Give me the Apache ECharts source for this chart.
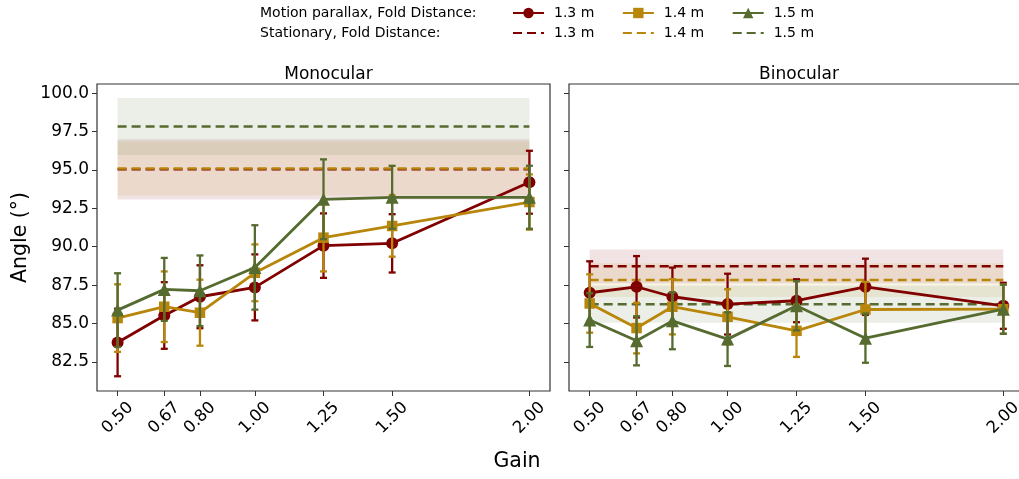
<!DOCTYPE html>
<html>
<head>
<meta charset="utf-8">
<script src="https://cdn.jsdelivr.net/npm/echarts@6/dist/echarts.min.js"></script>
<style>
html,body{margin:0;padding:0;background:#fff;}
#chart{width:1019px;height:479px;}
</style>
</head>
<body>
<div id="chart"></div>
<script>
// ---------------- data ----------------
const gains = [0.5, 0.67, 0.8, 1.0, 1.25, 1.5, 2.0];
const gainTickLabels = ['0.50', '0.67', '0.80', '1.00', '1.25', '1.50', '2.00'];
const angleTicks = [82.5, 85.0, 87.5, 90.0, 92.5, 95.0, 97.5, 100.0];
const distances = ['1.3 m', '1.4 m', '1.5 m'];
const panelTitles = ['Monocular', 'Binocular'];

// Monocular, motion parallax (mean, error)
const monoMean13 = [83.76, 85.52, 86.74, 87.35, 90.07, 90.22, 94.20];
const monoErr13  = [2.20, 2.17, 2.05, 2.15, 2.10, 1.90, 2.05];
const monoMean14 = [85.35, 86.09, 85.70, 88.30, 90.59, 91.35, 92.91];
const monoErr14  = [2.20, 2.30, 2.15, 1.85, 2.20, 2.00, 1.80];
const monoMean15 = [85.87, 87.22, 87.13, 88.65, 93.09, 93.22, 93.22];
const monoErr15  = [2.40, 2.05, 2.30, 2.75, 2.60, 2.05, 2.05];

// Binocular, motion parallax (mean, error)
const binoMean13 = [87.00, 87.39, 86.74, 86.26, 86.48, 87.39, 86.15];
const binoErr13  = [2.05, 2.00, 1.90, 1.98, 1.40, 1.83, 1.50];
const binoMean14 = [86.30, 84.70, 86.09, 85.43, 84.52, 85.91, 85.93];
const binoErr14  = [1.90, 1.65, 1.80, 1.80, 1.70, 1.80, 1.60];
const binoMean15 = [85.22, 83.87, 85.17, 83.98, 86.15, 84.04, 85.93];
const binoErr15  = [1.75, 1.60, 1.85, 1.75, 1.60, 1.60, 1.60];

// Stationary (mean, sd) for 1.3, 1.4, 1.5 m
const monoStatMean = [95.04, 95.10, 97.83];
const monoStatSd   = [1.96, 1.76, 1.85];
const binoStatMean = [88.72, 87.83, 86.25];
const binoStatSd   = [1.10, 1.10, 1.20];

// ---------------- styling ----------------
const colors = ['#800000', '#b8860b', '#556b2f'];
const bandColors = ['rgba(128,0,0,0.11)', 'rgba(184,134,11,0.10)', 'rgba(85,107,47,0.11)'];
const symbols = ['circle', 'rect', 'triangle'];
const symbolSizes = [12, 10.5, 13];
const FONT = 'DejaVu Sans';

const panels = [
  {means: [monoMean13, monoMean14, monoMean15], errs: [monoErr13, monoErr14, monoErr15], statM: monoStatMean, statS: monoStatSd},
  {means: [binoMean13, binoMean14, binoMean15], errs: [binoErr13, binoErr14, binoErr15], statM: binoStatMean, statS: binoStatSd}
];

function errRender(params, api) {
  const x = api.value(0), lo = api.value(1), hi = api.value(2);
  const p1 = api.coord([x, lo]), p2 = api.coord([x, hi]);
  const cap = 3.5;
  const style = {stroke: api.visual('color'), lineWidth: 2.3};
  return {type: 'group', children: [
    {type: 'line', shape: {x1: p1[0], y1: p1[1], x2: p2[0], y2: p2[1]}, style: style},
    {type: 'line', shape: {x1: p1[0] - cap, y1: p1[1], x2: p1[0] + cap, y2: p1[1]}, style: style},
    {type: 'line', shape: {x1: p2[0] - cap, y1: p2[1], x2: p2[0] + cap, y2: p2[1]}, style: style}
  ]};
}
function bandRender(params, api) {
  const a = api.coord([api.value(0), api.value(3)]);
  const b = api.coord([api.value(1), api.value(2)]);
  return {type: 'rect', shape: {x: a[0], y: a[1], width: b[0] - a[0], height: b[1] - a[1]},
          style: {fill: api.visual('color')}};
}

const grids = [
  {left: 97, top: 84, width: 453, height: 307, show: true, borderColor: '#333', borderWidth: 1.2,
   backgroundColor: 'transparent', outerBoundsMode: 'none', containLabel: false},
  {left: 569, top: 84, width: 455, height: 307, show: true, borderColor: '#333', borderWidth: 1.2,
   backgroundColor: 'transparent', outerBoundsMode: 'none', containLabel: false}
];

const xAxes = [0, 1].map(i => ({
  type: 'value', gridIndex: i, min: 0.425, max: 2.075,
  splitLine: {show: false}, axisLine: {show: false},
  axisTick: {show: true, length: 5, lineStyle: {color: '#333', width: 1}, customValues: gains},
  axisLabel: {customValues: gains, rotate: 45, align: 'center', verticalAlign: 'middle', margin: 27,
    fontFamily: FONT, fontSize: 16.5, color: '#000', hideOverlap: false,
    formatter: v => gainTickLabels[gains.findIndex(g => Math.abs(g - v) < 1e-6)] || ''}
}));

const yAxes = [0, 1].map(i => ({
  type: 'value', gridIndex: i, min: 80.6, max: 100.6,
  splitLine: {show: false}, axisLine: {show: false},
  axisTick: {show: true, length: 5, lineStyle: {color: '#333', width: 1}, customValues: angleTicks},
  axisLabel: {show: i === 0, customValues: angleTicks, fontFamily: FONT, fontSize: 17, color: '#000', margin: 8,
    formatter: v => v.toFixed(1)},
  name: i === 0 ? 'Angle (°)' : '', nameLocation: 'middle', nameGap: 66,
  nameTextStyle: {fontFamily: FONT, fontSize: 20.5, color: '#000'}
}));

const series = [];
panels.forEach((p, pi) => {
  for (let d = 0; d < 3; d++) {
    series.push({
      type: 'custom', xAxisIndex: pi, yAxisIndex: pi, z: 1, silent: true,
      itemStyle: {color: bandColors[d]},
      renderItem: bandRender,
      data: [[gains[0], gains[gains.length - 1], p.statM[d] - p.statS[d], p.statM[d] + p.statS[d]]]
    });
  }
  for (let d = 0; d < 3; d++) {
    series.push({
      name: 'ST ' + distances[d], type: 'line', xAxisIndex: pi, yAxisIndex: pi, z: 2,
      symbol: 'none', color: colors[d],
      lineStyle: {color: colors[d], width: 2.5, type: [9, 5]},
      data: [[gains[0], p.statM[d]], [gains[gains.length - 1], p.statM[d]]]
    });
  }
  for (let d = 0; d < 3; d++) {
    series.push({
      type: 'custom', xAxisIndex: pi, yAxisIndex: pi, z: 3 + d, silent: true,
      itemStyle: {color: colors[d]},
      renderItem: errRender,
      data: gains.map((g, k) => [g, p.means[d][k] - p.errs[d][k], p.means[d][k] + p.errs[d][k]])
    });
    series.push({
      name: 'MP ' + distances[d], type: 'line', xAxisIndex: pi, yAxisIndex: pi, z: 3 + d,
      symbol: symbols[d], symbolSize: symbolSizes[d], color: colors[d],
      itemStyle: {color: colors[d]},
      lineStyle: {color: colors[d], width: 2.8},
      data: gains.map((g, k) => [g, p.means[d][k]])
    });
  }
});

const legendCommon = {
  orient: 'horizontal', padding: 0, itemWidth: 31, itemHeight: 13, itemGap: 27.5,
  textStyle: {fontFamily: FONT, fontSize: 14, color: '#000', padding: [0, 0, 0, 5]},
  formatter: n => n.slice(3), selectedMode: false
};

const option = {
  animation: false,
  backgroundColor: '#fff',
  title: [
    {text: panelTitles[0], left: 323.5, top: 61, textAlign: 'center',
     textStyle: {fontFamily: FONT, fontSize: 17, fontWeight: 'normal', color: '#000'}},
    {text: panelTitles[1], left: 794, top: 61, textAlign: 'center',
     textStyle: {fontFamily: FONT, fontSize: 17, fontWeight: 'normal', color: '#000'}}
  ],
  legend: [
    Object.assign({left: 512, top: 6, data: distances.map(d => 'MP ' + d)}, legendCommon),
    Object.assign({left: 512, top: 26, data: distances.map(d => ({name: 'ST ' + d, itemStyle: {opacity: 0}}))}, legendCommon)
  ],
  graphic: [
    {type: 'text', x: 260, y: 13, style: {text: 'Motion parallax, Fold Distance:', font: '14px "DejaVu Sans"', fill: '#000', verticalAlign: 'middle'}},
    {type: 'text', x: 260, y: 33, style: {text: 'Stationary, Fold Distance:', font: '14px "DejaVu Sans"', fill: '#000', verticalAlign: 'middle'}},
    {type: 'text', x: 517, y: 462, style: {text: 'Gain', font: '20.5px "DejaVu Sans"', fill: '#000', align: 'center', verticalAlign: 'middle'}}
  ],
  grid: grids,
  xAxis: xAxes,
  yAxis: yAxes,
  series: series
};

const chart = echarts.init(document.getElementById('chart'), null, {renderer: 'canvas'});
chart.setOption(option);
</script>
</body>
</html>
